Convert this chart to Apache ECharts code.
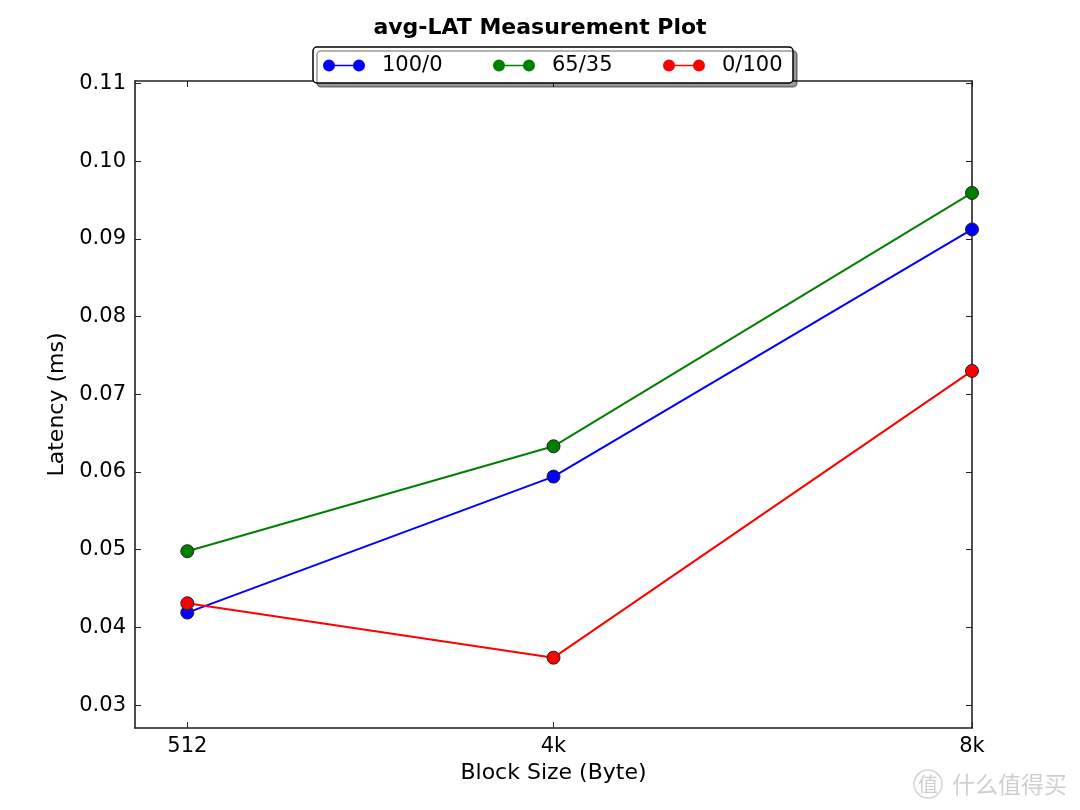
<!DOCTYPE html>
<html>
<head>
<meta charset="utf-8">
<script src="https://cdn.jsdelivr.net/npm/echarts@6/dist/echarts.min.js"></script>
<style>html,body{margin:0;padding:0;background:#fff;}#c{width:1080px;height:810px;}</style>
</head>
<body>
<div id="c"></div>
<script>
const blockSizes = [512, 4096, 8192];
const xTickLabels = ['512', '4k', '8k'];
const yTicks = [0.03, 0.04, 0.05, 0.06, 0.07, 0.08, 0.09, 0.10, 0.11];
const seriesNames = ['100/0', '65/35', '0/100'];
const lat100_0 = [0.0419, 0.0594, 0.0912];
const lat65_35 = [0.0498, 0.0633, 0.0959];
const lat0_100 = [0.0431, 0.0361, 0.0730];
const colors = ['#0000ff', '#008000', '#ff0000'];

const FONT = 'DejaVu Sans';
const axisColor = '#222';
const allSeries = [lat100_0, lat65_35, lat0_100];
const Y_MIN = 0.02705, Y_MAX = 0.1103;

const iconPath = 'path://M0,6 A6,6 0 1,1 12,6 A6,6 0 1,1 0,6 Z M11,5.2 L31,5.2 L31,6.8 L11,6.8 Z M30,6 A6,6 0 1,1 42,6 A6,6 0 1,1 30,6 Z';
const legendLefts = [323, 493, 663];

const chart = echarts.init(document.getElementById('c'), null, {renderer: 'canvas'});
const tickStyle = {color: axisColor, width: 1};
const mkLine = () => ({show: true, onZero: false, lineStyle: {color: axisColor, width: 1.6}});
const option = {
  backgroundColor: '#fff',
  animation: false,
  title: {
    text: 'avg-LAT Measurement Plot', left: 'center', top: 12,
    textStyle: {fontFamily: FONT, fontWeight: 'bold', fontSize: 22, color: '#000'}
  },
  grid: {left: 135, right: 108, top: 81, bottom: 82},
  xAxis: [
    {type: 'value', min: 0, max: 8192, position: 'bottom', splitLine: {show: false},
      axisLine: mkLine(),
      axisTick: {show: true, inside: true, length: 6, customValues: blockSizes, lineStyle: tickStyle},
      name: 'Block Size (Byte)', nameLocation: 'middle', nameGap: 33,
      nameTextStyle: {fontFamily: FONT, fontSize: 22, color: '#000'},
      axisLabel: {show: true, customValues: blockSizes, margin: 8,
        fontFamily: FONT, fontSize: 21, color: '#000',
        formatter: v => xTickLabels[blockSizes.indexOf(v)]}
    },
    {type: 'value', min: 0, max: 8192, position: 'top', splitLine: {show: false},
      axisLine: mkLine(),
      axisTick: {show: true, inside: true, length: 6, customValues: blockSizes, lineStyle: tickStyle},
      axisLabel: {show: false}}
  ],
  yAxis: [
    {type: 'value', min: Y_MIN, max: Y_MAX, position: 'left', splitLine: {show: false},
      axisLine: mkLine(),
      axisTick: {show: true, inside: true, length: 6, customValues: yTicks, lineStyle: tickStyle},
      name: 'Latency (ms)', nameLocation: 'middle', nameGap: 59,
      nameTextStyle: {fontFamily: FONT, fontSize: 22, color: '#000'},
      axisLabel: {show: true, customValues: yTicks, margin: 9,
        fontFamily: FONT, fontSize: 21, color: '#000',
        formatter: v => v.toFixed(2)}
    },
    {type: 'value', min: Y_MIN, max: Y_MAX, position: 'right', splitLine: {show: false},
      axisLine: mkLine(),
      axisTick: {show: true, inside: true, length: 6, customValues: yTicks, lineStyle: tickStyle},
      axisLabel: {show: false}}
  ],
  legend: seriesNames.map((n, i) => ({
    data: [n], left: legendLefts[i], top: 55, icon: iconPath,
    itemWidth: 42, itemHeight: 12, itemGap: 0, padding: 0, z: 10,
    textStyle: {fontFamily: FONT, fontSize: 21, color: '#000', padding: [0, 0, 0, 12]},
    itemStyle: {borderWidth: 0}
  })),
  graphic: [
    {type: 'rect', z: 8, shape: {x: 313, y: 47, width: 480, height: 36, r: 4},
     style: {fill: '#fff', stroke: '#000', lineWidth: 1.5, shadowColor: 'rgba(0,0,0,0.4)', shadowOffsetX: 4, shadowOffsetY: 4, shadowBlur: 0}},
    {type: 'circle', z: 8, shape: {cx: 928, cy: 784, r: 14}, style: {fill: 'none', stroke: '#d4d4d4', lineWidth: 1.5}},
    {type: 'text', z: 8, style: {x: 928, y: 784, text: '值', fill: '#cfcfcf', font: '20px "Noto Sans CJK SC"', align: 'center', verticalAlign: 'middle'}},
    {type: 'text', z: 8, style: {x: 952, y: 784, text: '什么值得买', fill: '#cfcfcf', font: '23px "Noto Sans CJK SC"', align: 'left', verticalAlign: 'middle'}}
  ],
  series: allSeries.map((vals, i) => ({
    name: seriesNames[i], type: 'line',
    xAxisIndex: 0, yAxisIndex: 0,
    data: blockSizes.map((b, j) => [b, vals[j]]),
    symbol: 'circle', symbolSize: 13, clip: false,
    lineStyle: {color: colors[i], width: 2},
    itemStyle: {color: colors[i], borderColor: '#222', borderWidth: 1}
  }))
};
chart.setOption(option);
</script>
</body>
</html>
